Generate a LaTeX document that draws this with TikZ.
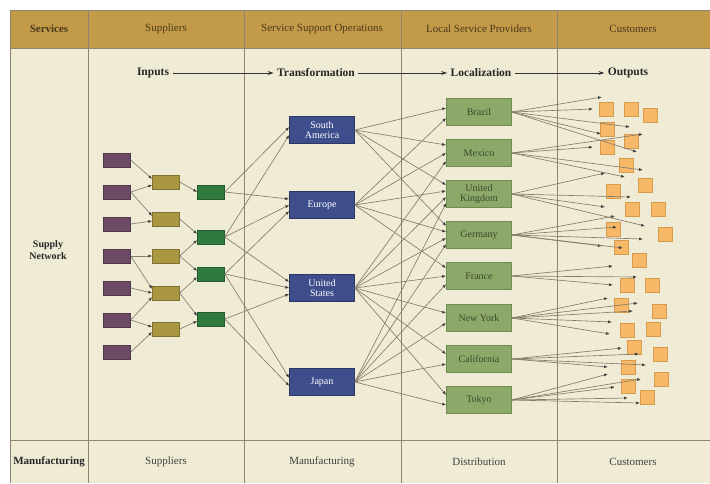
\documentclass[tikz,border=0pt]{standalone}
\usepackage{fontspec}
\setmainfont{Liberation Serif}
\usetikzlibrary{arrows.meta,calc}
\definecolor{bg}{HTML}{EFEBD5}
\definecolor{hdr}{HTML}{C39A47}
\definecolor{gridc}{HTML}{8E8470}
\definecolor{purp}{HTML}{6C4A65}
\definecolor{oliv}{HTML}{A99741}
\definecolor{dgrn}{HTML}{2F7A3F}
\definecolor{navy}{HTML}{3E4E8C}
\definecolor{lgrn}{HTML}{8DA96A}
\definecolor{lgrnb}{HTML}{6F8C52}
\definecolor{lgtxt}{HTML}{3A4A2A}
\definecolor{orng}{HTML}{F7B968}
\definecolor{orngb}{HTML}{D69B4E}
\definecolor{connc}{HTML}{857C6C}
\definecolor{hdtxt}{HTML}{4A3A20}
\tikzset{
  sbox/.style={minimum width=27pt,minimum height=14pt,inner sep=0pt,fill=#1,draw=#1!75!black,line width=0.5pt},
  bbox/.style={minimum width=65pt,minimum height=27pt,inner sep=0pt,fill=navy,draw=navy!70!black,line width=0.5pt,text=white,font=\fontsize{10}{10.5}\selectfont,align=center},
  gbox/.style={minimum width=65pt,minimum height=27pt,inner sep=0pt,fill=lgrn,draw=lgrnb,line width=0.6pt,text=lgtxt,font=\fontsize{10}{10.5}\selectfont,align=center},
  obox/.style={minimum width=14pt,minimum height=14pt,inner sep=0pt,fill=orng,draw=orngb,line width=0.6pt},
  cn/.style={draw=connc,line width=0.65pt,-{Latex[length=4pt,width=3pt,color=black!75]}},
  hd/.style={text=hdtxt,font=\fontsize{11}{12}\selectfont},
  flowlbl/.style={text=black!85,font=\fontsize{11.5}{12}\selectfont\bfseries},
  flowarr/.style={draw=black!80,line width=0.7pt,-{Stealth[length=6pt,width=4pt]}},
  ft/.style={text=black!75,font=\fontsize{11}{12}\selectfont},
}
\begin{document}
\begin{tikzpicture}[x=1pt,y=-1pt]
\useasboundingbox (0,0) rectangle (710,483);
% background
\fill[bg] (10,10) rectangle (710,483);
\fill[hdr] (10,10) rectangle (710,48);
\draw[gridc,line width=0.8pt] (10,10) -- (710,10);
\draw[gridc,line width=0.8pt] (10,48) -- (710,48);
\draw[gridc,line width=0.8pt] (10,440) -- (710,440);
\draw[gridc,line width=0.8pt] (10,10) -- (10,483);
\foreach \x in {88,244,401,557} \draw[gridc,line width=0.8pt] (\x,10) -- (\x,483);
% header texts
\node[hd,font=\fontsize{11}{12}\selectfont\bfseries] (hserv) at (49,29) {Services};
\node[hd] (hsup) at (166,29) {Suppliers};
\node[hd] (hsso) at (322,29) {Service Support Operations};
\node[hd] (hlsp) at (479,29) {Local Service Providers};
\node[hd] (hcus) at (633,29) {Customers};
% flow row
\node[flowlbl] (inp) at (153,73) {Inputs};
\node[flowlbl] (tra) at (316,73) {Transformation};
\node[flowlbl] (loc) at (481,73) {Localization};
\node[flowlbl] (out) at (628,73) {Outputs};
\draw[flowarr] (inp) -- (tra);
\draw[flowarr] (tra) -- (loc);
\draw[flowarr] (loc) -- (out);
% left labels
\node[text=black!85,font=\fontsize{10}{11.5}\selectfont\bfseries,align=center] (supnet) at (48,250) {Supply\\Network};
\node[ft,font=\fontsize{11}{12}\selectfont\bfseries,text=black!85] (bman) at (49,462) {Manufacturing};
\node[ft] (bsup) at (166,462) {Suppliers};
\node[ft] (bmfg) at (322,462) {Manufacturing};
\node[ft] (bdis) at (479,462) {Distribution};
\node[ft] (bcus) at (633,462) {Customers};
% inputs
\node[sbox=purp] (p1) at (117,160) {};
\node[sbox=purp] (p2) at (117,192) {};
\node[sbox=purp] (p3) at (117,224) {};
\node[sbox=purp] (p4) at (117,256) {};
\node[sbox=purp] (p5) at (117,288) {};
\node[sbox=purp] (p6) at (117,320) {};
\node[sbox=purp] (p7) at (117,352) {};
\node[sbox=oliv] (o1) at (166,182) {};
\node[sbox=oliv] (o2) at (166,219) {};
\node[sbox=oliv] (o3) at (166,256) {};
\node[sbox=oliv] (o4) at (166,293) {};
\node[sbox=oliv] (o5) at (166,329) {};
\node[sbox=dgrn] (g1) at (211,192) {};
\node[sbox=dgrn] (g2) at (211,237) {};
\node[sbox=dgrn] (g3) at (211,274) {};
\node[sbox=dgrn] (g4) at (211,319) {};
% transformation
\node[bbox] (sa) at (322,130) {South\\America};
\node[bbox] (eu) at (322,205) {Europe};
\node[bbox] (us) at (322,288) {United\\States};
\node[bbox] (jp) at (322,382) {Japan};
% localization
\node[gbox] (br) at (479,112) {Brazil};
\node[gbox] (mx) at (479,153) {Mexico};
\node[gbox] (uk) at (479,194) {United\\Kingdom};
\node[gbox] (de) at (479,235) {Germany};
\node[gbox] (fr) at (479,276) {France};
\node[gbox] (ny) at (479,318) {New York};
\node[gbox] (ca) at (479,359) {California};
\node[gbox] (tk) at (479,400) {Tokyo};
% outputs
\foreach \n/\x/\y in {1/606/109,2/631/109,3/650/115,4/607/129,5/607/147,6/631/141,7/626/165,8/645/185,9/613/191,10/632/209,11/658/209,12/613/229,13/665/234,14/621/247,15/639/260,16/627/285,17/652/285,18/621/305,19/659/311,20/627/330,21/653/329,22/634/347,23/660/354,24/628/367,25/661/379,26/628/386,27/647/397}
  \node[obox] (q\n) at (\x,\y) {};
% connectors inputs
\draw[cn] (p1.east) -- ($(o1.west)+(0,-3)$);
\draw[cn] (p2.east) -- ($(o1.west)+(0,3)$);
\draw[cn] (p2.east) -- ($(o2.west)+(0,-3)$);
\draw[cn] (p3.east) -- ($(o2.west)+(0,2)$);
\draw[cn] (p4.east) -- ($(o3.west)+(0,0)$);
\draw[cn] (p4.east) -- ($(o4.west)+(0,-4)$);
\draw[cn] (p5.east) -- ($(o4.west)+(0,0)$);
\draw[cn] (p6.east) -- ($(o4.west)+(0,4)$);
\draw[cn] (p6.east) -- ($(o5.west)+(0,-2)$);
\draw[cn] (p7.east) -- ($(o5.west)+(0,3)$);
\draw[cn] (o1.east) -- ($(g1.west)+(0,0)$);
\draw[cn] (o2.east) -- ($(g2.west)+(0,-3)$);
\draw[cn] (o3.east) -- ($(g2.west)+(0,3)$);
\draw[cn] (o3.east) -- ($(g3.west)+(0,-3)$);
\draw[cn] (o4.east) -- ($(g3.west)+(0,3)$);
\draw[cn] (o4.east) -- ($(g4.west)+(0,-3)$);
\draw[cn] (o5.east) -- ($(g4.west)+(0,2)$);
% to transformation
\draw[cn] (g1.east) -- ($(sa.west)+(0,-3)$);
\draw[cn] (g1.east) -- ($(eu.west)+(0,-6)$);
\draw[cn] (g2.east) -- ($(sa.west)+(0,5)$);
\draw[cn] (g2.east) -- ($(eu.west)+(0,0)$);
\draw[cn] (g2.east) -- ($(us.west)+(0,-6)$);
\draw[cn] (g3.east) -- ($(eu.west)+(0,6)$);
\draw[cn] (g3.east) -- ($(us.west)+(0,0)$);
\draw[cn] (g3.east) -- ($(jp.west)+(0,-4)$);
\draw[cn] (g4.east) -- ($(us.west)+(0,6)$);
\draw[cn] (g4.east) -- ($(jp.west)+(0,4)$);
% to localization
\foreach \t/\d in {br/-4,mx/-8,uk/-9,de/-9} \draw[cn] (sa.east) -- ($(\t.west)+(0,\d)$);
\foreach \t/\d in {br/6,mx/0,uk/-3,de/-3,fr/-8} \draw[cn] (eu.east) -- ($(\t.west)+(0,\d)$);
\foreach \t/\d in {mx/8,uk/3,de/3,fr/0,ny/-5,ca/-5,tk/-5} \draw[cn] (us.east) -- ($(\t.west)+(0,\d)$);
\foreach \t/\d in {uk/9,de/9,fr/8,ny/5,ca/5,tk/5} \draw[cn] (jp.east) -- ($(\t.west)+(0,\d)$);
% to outputs
\foreach \s/\pts in {br/{602/97,593/109,630/127,601/134,637/152},
                     mx/{643/134,593/147,643/170,625/177},
                     uk/{605/173,631/197,605/207,645/226},
                     de/{615/216,617/227,643/239,602/246,623/248},
                     fr/{613/266,637/277,613/285},
                     ny/{608/298,638/303,633/311,612/322,610/334},
                     ca/{622/348,639/354,608/367,646/365},
                     tk/{608/374,641/379,615/387,628/398,640/403}} {
  \foreach \ex/\ey [count=\k] in \pts {
    \coordinate (e-\s-\k) at (\ex,\ey);
    \draw[cn] (\s.east) -- (e-\s-\k);
  }
}
\end{tikzpicture}
\end{document}
